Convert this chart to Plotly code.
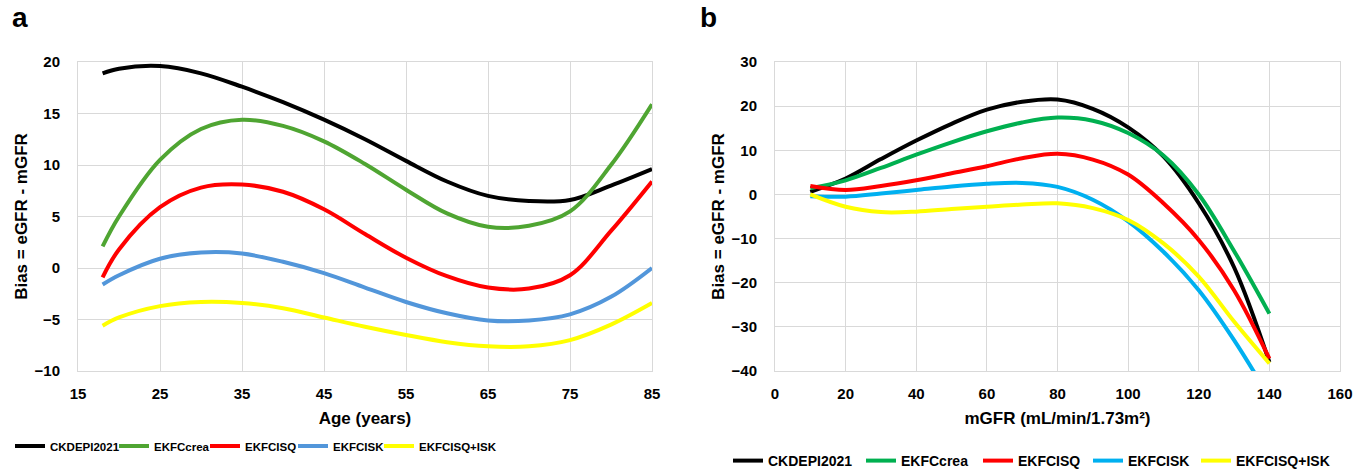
import plotly.graph_objects as go

# ---------------- Panel a: bias vs age ----------------
age = [18, 20, 25, 30, 35, 40, 45, 50, 55, 60, 65, 70, 75, 80, 85]
a_ckdepi2021 = [18.9, 19.35, 19.6, 18.9, 17.6, 16.1, 14.4, 12.5, 10.4, 8.4, 7.0, 6.5, 6.6, 8.0, 9.6]
a_ekfccrea = [2.1, 5.0, 10.5, 13.5, 14.4, 13.8, 12.3, 10.1, 7.6, 5.3, 4.0, 4.1, 5.5, 10.0, 15.9]
a_ekfcisq = [-0.9, 1.8, 5.9, 7.8, 8.1, 7.4, 5.7, 3.3, 1.0, -0.8, -1.9, -2.0, -0.7, 3.6, 8.4]
a_ekfcisk = [-1.6, -0.7, 0.9, 1.5, 1.4, 0.6, -0.5, -1.9, -3.3, -4.4, -5.1, -5.1, -4.5, -2.8, 0.0]
a_ekfcisq_isk = [-5.6, -4.8, -3.7, -3.3, -3.4, -3.9, -4.8, -5.7, -6.5, -7.2, -7.6, -7.6, -7.0, -5.5, -3.4]

# ---------------- Panel b: bias vs mGFR ----------------
mgfr = [10, 20, 30, 40, 50, 60, 70, 80, 90, 100, 110, 120, 130, 140]
b_ckdepi2021 = [0.6, 3.6, 8.0, 12.2, 16.0, 19.2, 21.0, 21.5, 19.4, 15.2, 8.6, -2.0, -16.5, -38.0]
b_ekfccrea = [1.4, 3.2, 6.0, 9.0, 11.8, 14.3, 16.3, 17.4, 16.7, 13.9, 8.8, 0.0, -12.8, -27.0]
b_ekfcisq = [1.9, 1.0, 1.9, 3.2, 4.8, 6.4, 8.2, 9.2, 7.9, 4.5, -2.0, -10.3, -21.7, -37.2]
b_ekfcisk = [-0.4, -0.5, 0.2, 1.0, 1.8, 2.4, 2.6, 1.7, -1.2, -6.1, -13.0, -21.7, -33.0, -46.0]
b_ekfcisq_isk = [0.0, -2.8, -4.0, -3.9, -3.3, -2.8, -2.3, -2.0, -3.1, -5.8, -11.1, -18.6, -28.8, -38.3]

names = ["CKDEPI2021", "EKFCcrea", "EKFCISQ", "EKFCISK", "EKFCISQ+ISK"]
colors_a = ["#000000", "#4FA532", "#FF0000", "#5296DA", "#FFFF00"]
colors_b = ["#000000", "#00B050", "#FF0000", "#00B0F0", "#FFFF00"]
legw_a = [59, 46, 43, 41, 85]
legw_b = [88, 72, 65, 63, 100]

FONT = "Arial, Liberation Sans, sans-serif"

fig = go.Figure()

series_a = [a_ckdepi2021, a_ekfccrea, a_ekfcisq, a_ekfcisk, a_ekfcisq_isk]
for y, n, c, w in zip(series_a, names, colors_a, legw_a):
    fig.add_trace(go.Scatter(x=age, y=y, name=n, mode="lines",
                             line=dict(color=c, width=4, shape="spline", smoothing=1.0),
                             xaxis="x", yaxis="y", legend="legend", legendwidth=w))

series_b = [b_ckdepi2021, b_ekfccrea, b_ekfcisq, b_ekfcisk, b_ekfcisq_isk]
for y, n, c, w in zip(series_b, names, colors_b, legw_b):
    fig.add_trace(go.Scatter(x=mgfr, y=y, name=n, mode="lines",
                             line=dict(color=c, width=4, shape="spline", smoothing=1.0),
                             xaxis="x2", yaxis="y2", legend="legend2", legendwidth=w))

GRID = "#D9D9D9"
tickfont = dict(family=FONT, size=15, color="#000000", weight="bold")
titlefont = dict(family=FONT, size=17, color="#000000", weight="bold")

common_axis = dict(showgrid=True, gridcolor=GRID, gridwidth=1, showline=True, linecolor=GRID,
                   linewidth=1, mirror=True, zeroline=False, ticks="", tickfont=tickfont)

legend_common = dict(orientation="h", itemwidth=30, bgcolor="rgba(0,0,0,0)", xanchor="left",
                     yanchor="middle", tracegroupgap=0, itemclick=False)

fig.update_layout(
    width=1367, height=472,
    margin=dict(l=0, r=0, t=62, b=101, autoexpand=False),
    paper_bgcolor="white", plot_bgcolor="white",
    showlegend=True,
    xaxis=dict(domain=[78 / 1367, 652 / 1367], range=[15, 85], tickvals=[15, 25, 35, 45, 55, 65, 75, 85],
               ticklabelstandoff=9,
               title=dict(text="Age (years)", font=titlefont, standoff=11), anchor="y", **common_axis),
    yaxis=dict(domain=[0, 1], range=[-10, 20], dtick=5, ticklabelstandoff=14,
               title=dict(text="Bias = eGFR - mGFR", font=titlefont, standoff=2), anchor="x", **common_axis),
    xaxis2=dict(domain=[775 / 1367, 1340 / 1367], range=[0, 160], dtick=20, ticklabelstandoff=9,
                title=dict(text="mGFR (mL/min/1.73m²)", font=titlefont, standoff=11), anchor="y2", **common_axis),
    yaxis2=dict(domain=[0, 1], range=[-40, 30], dtick=10, ticklabelstandoff=14,
                title=dict(text="Bias = eGFR - mGFR", font=titlefont, standoff=2), anchor="x2", **common_axis),
    legend=dict(x=10 / 1367, y=-75 / 309,
                font=dict(family=FONT, size=11.5, color="#000000", weight="bold"), **legend_common),
    legend2=dict(x=728 / 1367, y=-90 / 309,
                 font=dict(family=FONT, size=14, color="#000000", weight="bold"), **legend_common),
)

fig.add_annotation(text="a", xref="paper", yref="paper", x=10 / 1367, y=1 + 44 / 309,
                   xanchor="left", yanchor="middle", showarrow=False,
                   font=dict(family=FONT, size=28, color="#000000", weight="bold"))
fig.add_annotation(text="b", xref="paper", yref="paper", x=698 / 1367, y=1 + 44 / 309,
                   xanchor="left", yanchor="middle", showarrow=False,
                   font=dict(family=FONT, size=28, color="#000000", weight="bold"))

fig.write_html("out.html", config={"displayModeBar": False},
               post_script="document.body.style.margin='0px';document.body.style.padding='0px';"
                           "document.body.style.overflow='hidden';")
